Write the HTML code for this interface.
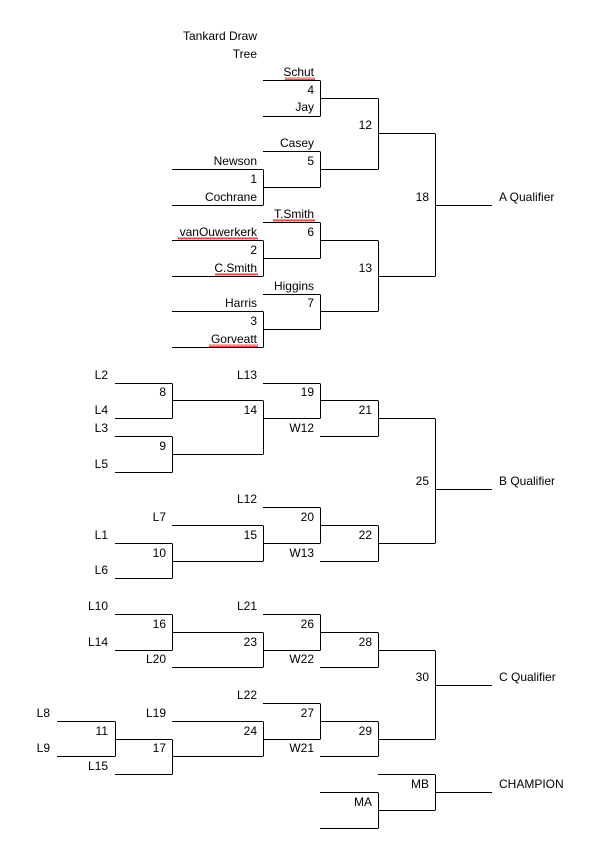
<!DOCTYPE html>
<html><head><meta charset="utf-8"><style>
html,body{margin:0;padding:0;background:#fff;}
svg{display:block;}
text{font-family:"Liberation Sans",sans-serif;font-size:12px;fill:#000;}
.r{text-anchor:end;}
</style></head><body>
<svg width="613" height="842" viewBox="0 0 613 842" xmlns="http://www.w3.org/2000/svg">
<defs>
<pattern id="zz" width="4" height="3" patternUnits="userSpaceOnUse">
<path d="M0,2.5 L1,0.5 L2,2.5 L3,0.5 L4,2.5" stroke="#e02020" stroke-width="0.8" fill="none"/>
</pattern>
</defs>
<g stroke="#000" stroke-width="1" fill="none">
<!-- Top section -->
<path d="M263 80.5H320M263 116.5H320M320.5 80.5V116.5M320 98.5H378"/>
<path d="M263 151.5H320M172 169.5H263M172 205.5H263M263.5 169.5V205.5M263 187.5H320M320.5 151.5V187.5M320 169.5H378M378.5 98.5V169.5M378 133.5H435"/>
<path d="M263 222.5H320M172 240.5H263M172 276.5H263M263.5 240.5V276.5M263 258.5H320M320.5 222.5V258.5M320 240.5H378"/>
<path d="M263 294.5H320M172 311.5H263M172 347.5H263M263.5 311.5V347.5M263 329.5H320M320.5 294.5V329.5M320 311.5H378M378.5 240.5V311.5M378 276.5H435M435.5 133.5V276.5M435 205.5H492"/>
<!-- B section -->
<path d="M115 383.5H172M115 418.5H172M172.5 383.5V418.5M172 400.5H263M115 436.5H172M115 472.5H172M172.5 436.5V472.5M172 454.5H263M263.5 400.5V454.5M263 418.5H320M263 383.5H320M320.5 383.5V418.5M320 400.5H378M320 436.5H378M378.5 400.5V436.5M378 418.5H435"/>
<path d="M263 507.5H320M172 525.5H263M115 543.5H172M115 578.5H172M172.5 543.5V578.5M172 561.5H263M263.5 525.5V561.5M263 543.5H320M320.5 507.5V543.5M320 525.5H378M320 561.5H378M378.5 525.5V561.5M378 543.5H435M435.5 418.5V543.5M435 489.5H492"/>
<!-- C section -->
<path d="M115 614.5H172M115 650.5H172M172.5 614.5V650.5M172 632.5H263M172 667.5H263M263.5 632.5V667.5M263 650.5H320M263 614.5H320M320.5 614.5V650.5M320 632.5H378M320 667.5H378M378.5 632.5V667.5M378 650.5H435"/>
<path d="M263 703.5H320M57 721.5H115M57 756.5H115M115.5 721.5V756.5M115 739.5H172M172 721.5H263M115 774.5H172M172.5 739.5V774.5M172 756.5H263M263.5 721.5V756.5M263 739.5H320M320.5 703.5V739.5M320 721.5H378M320 756.5H378M378.5 721.5V756.5M378 739.5H435M435.5 650.5V739.5M435 685.5H492"/>
<path d="M378 774.5H435M435.5 774.5V810.5M435 792.5H492M320 792.5H378M378.5 792.5V828.5M378 810.5H435M320 828.5H378"/>
</g>
<!-- squiggles -->
<rect x="285" y="77" width="30" height="3" fill="url(#zz)"/>
<rect x="273" y="219" width="42" height="3" fill="url(#zz)"/>
<rect x="178" y="237" width="80" height="3" fill="url(#zz)"/>
<rect x="215" y="273" width="43" height="3" fill="url(#zz)"/>
<rect x="209" y="344" width="49" height="3" fill="url(#zz)"/>
<!-- Top texts -->
<text class="r" x="257" y="40">Tankard Draw</text>
<text class="r" x="257" y="58">Tree</text>
<text class="r" x="314" y="76">Schut</text>
<text class="r" x="314" y="94">4</text>
<text class="r" x="314" y="111">Jay</text>
<text class="r" x="372" y="129">12</text>
<text class="r" x="314" y="147">Casey</text>
<text class="r" x="314" y="165">5</text>
<text class="r" x="257" y="165">Newson</text>
<text class="r" x="257" y="183">1</text>
<text class="r" x="257" y="201">Cochrane</text>
<text class="r" x="429" y="201">18</text>
<text x="499" y="201">A Qualifier</text>
<text class="r" x="314" y="218">T.Smith</text>
<text class="r" x="257" y="236">vanOuwerkerk</text>
<text class="r" x="314" y="236">6</text>
<text class="r" x="257" y="254">2</text>
<text class="r" x="257" y="272">C.Smith</text>
<text class="r" x="372" y="272">13</text>
<text class="r" x="314" y="290">Higgins</text>
<text class="r" x="257" y="307">Harris</text>
<text class="r" x="314" y="307">7</text>
<text class="r" x="257" y="325">3</text>
<text class="r" x="257" y="343">Gorveatt</text>
<!-- B texts -->
<text class="r" x="108" y="379">L2</text>
<text class="r" x="257" y="379">L13</text>
<text class="r" x="166" y="396">8</text>
<text class="r" x="314" y="396">19</text>
<text class="r" x="108" y="414">L4</text>
<text class="r" x="257" y="414">14</text>
<text class="r" x="372" y="414">21</text>
<text class="r" x="108" y="432">L3</text>
<text class="r" x="314" y="432">W12</text>
<text class="r" x="166" y="450">9</text>
<text class="r" x="108" y="468">L5</text>
<text class="r" x="429" y="485">25</text>
<text x="499" y="485">B Qualifier</text>
<text class="r" x="257" y="503">L12</text>
<text class="r" x="166" y="521">L7</text>
<text class="r" x="314" y="521">20</text>
<text class="r" x="108" y="539">L1</text>
<text class="r" x="257" y="539">15</text>
<text class="r" x="372" y="539">22</text>
<text class="r" x="166" y="557">10</text>
<text class="r" x="314" y="557">W13</text>
<text class="r" x="108" y="574">L6</text>
<!-- C texts -->
<text class="r" x="108" y="610">L10</text>
<text class="r" x="257" y="610">L21</text>
<text class="r" x="166" y="628">16</text>
<text class="r" x="314" y="628">26</text>
<text class="r" x="108" y="646">L14</text>
<text class="r" x="257" y="646">23</text>
<text class="r" x="372" y="646">28</text>
<text class="r" x="166" y="663">L20</text>
<text class="r" x="314" y="663">W22</text>
<text class="r" x="429" y="681">30</text>
<text x="499" y="681">C Qualifier</text>
<text class="r" x="257" y="699">L22</text>
<text class="r" x="50" y="717">L8</text>
<text class="r" x="166" y="717">L19</text>
<text class="r" x="314" y="717">27</text>
<text class="r" x="108" y="735">11</text>
<text class="r" x="257" y="735">24</text>
<text class="r" x="372" y="735">29</text>
<text class="r" x="50" y="752">L9</text>
<text class="r" x="166" y="752">17</text>
<text class="r" x="314" y="752">W21</text>
<text class="r" x="108" y="770">L15</text>
<text class="r" x="429" y="788">MB</text>
<text class="r" x="372" y="806">MA</text>
<text x="499" y="788">CHAMPION</text>
</svg>
</body></html>
